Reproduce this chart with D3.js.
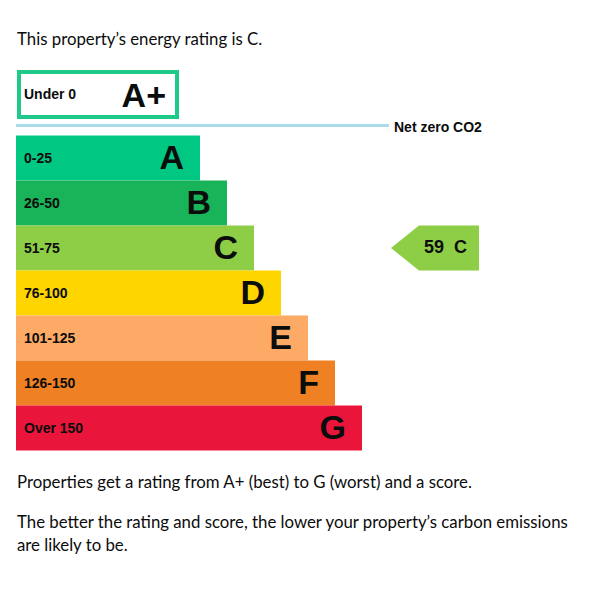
<!DOCTYPE html>
<html>
<head>
<meta charset="utf-8">
<script src="https://cdn.jsdelivr.net/npm/d3@7"></script>
<style>
  body { margin: 0; background: #fff; }
  .prose { font-family: Lato, "Noto Sans", Arial, sans-serif; font-size: 16.8px; fill: #0b0c0c; }
  .bold { font-family: "Liberation Sans", Arial, sans-serif; font-weight: bold; fill: #0b0c0c; }
</style>
</head>
<body>
<div id="chart"></div>
<script>
// energy bands, best to worst
const bands = ["A", "B", "C", "D", "E", "F", "G"];
const ranges = ["0-25", "26-50", "51-75", "76-100", "101-125", "126-150", "Over 150"];
const bandColors = ["#00c781", "#19b459", "#8dce46", "#ffd500", "#fcaa65", "#ef8023", "#e9153b"];

const topBand = "A+";
const topRange = "Under 0";
const netZeroLabel = "Net zero CO2";

const currentScore = 59;
const currentBand = "C";

const introText = "This property\u2019s energy rating is C.";
const footerLines = [
    "Properties get a rating from A+ (best) to G (worst) and a score.",
    "The better the rating and score, the lower your property\u2019s carbon emissions",
    "are likely to be."
];

const width = 615, height = 589;

const svg = d3.select("#chart")
    .append("svg")
    .attr("width", width)
    .attr("height", height);

// vertical scale for the bars
const y = d3.scaleBand()
    .domain(bands)
    .range([135.5, 450.5])
    .paddingInner(0);

// right edge of each bar grows with the band index
const xRight = d3.scaleLinear()
    .domain([0, bands.length - 1])
    .range([200, 362]);

const left = 16;

// intro line
svg.append("text")
    .attr("class", "prose")
    .attr("x", 17)
    .attr("y", 45)
    .text(introText);

// A+ box (outlined, not filled)
svg.append("rect")
    .attr("x", 19)
    .attr("y", 72)
    .attr("width", 158)
    .attr("height", 45)
    .attr("fill", "#fff")
    .attr("stroke", "#1ec98a")
    .attr("stroke-width", 4);

svg.append("text")
    .attr("class", "bold")
    .attr("x", 24)
    .attr("y", 99)
    .style("font-size", "14px")
    .text(topRange);

svg.append("text")
    .attr("class", "bold")
    .attr("x", 166)
    .attr("y", 107)
    .attr("text-anchor", "end")
    .style("font-size", "34px")
    .text(topBand);

// net zero line
svg.append("line")
    .attr("x1", left)
    .attr("x2", 389)
    .attr("y1", 125.5)
    .attr("y2", 125.5)
    .attr("stroke", "#abdbe8")
    .attr("stroke-width", 3);

svg.append("text")
    .attr("class", "bold")
    .attr("x", 394)
    .attr("y", 132)
    .style("font-size", "14px")
    .text(netZeroLabel);

// bars
const rows = svg.selectAll(".band")
    .data(bands)
    .enter()
    .append("g")
    .attr("class", "band");

rows.append("rect")
    .attr("x", left)
    .attr("y", d => y(d))
    .attr("width", (d, i) => xRight(i) - left)
    .attr("height", y.bandwidth())
    .attr("fill", (d, i) => bandColors[i]);

rows.append("text")
    .attr("class", "bold")
    .attr("x", 24)
    .attr("y", d => y(d) + y.bandwidth() / 2 + 5)
    .style("font-size", "14px")
    .text((d, i) => ranges[i]);

rows.append("text")
    .attr("class", "bold")
    .attr("x", (d, i) => xRight(i) - 16)
    .attr("y", d => y(d) + 33.5)
    .attr("text-anchor", "end")
    .style("font-size", "34px")
    .text(d => d);

// current rating arrow
const ci = bands.indexOf(currentBand);
const aTop = y(currentBand), aBot = y(currentBand) + y.bandwidth();
const tipX = 391, bodyX = 419, endX = 479;

svg.append("polygon")
    .attr("points", [
        [tipX, (aTop + aBot) / 2],
        [bodyX, aTop],
        [endX, aTop],
        [endX, aBot],
        [bodyX, aBot]
    ].map(p => p.join(",")).join(" "))
    .attr("fill", bandColors[ci]);

svg.append("text")
    .attr("class", "bold")
    .attr("x", 424)
    .attr("y", aTop + 27)
    .style("font-size", "18px")
    .style("white-space", "pre")
    .text(currentScore + "  " + currentBand);

// footer text
svg.selectAll(".footer")
    .data(footerLines)
    .enter()
    .append("text")
    .attr("class", "prose footer")
    .attr("x", 17)
    .attr("y", (d, i) => [488, 528, 551][i])
    .text(d => d);
</script>
</body>
</html>
